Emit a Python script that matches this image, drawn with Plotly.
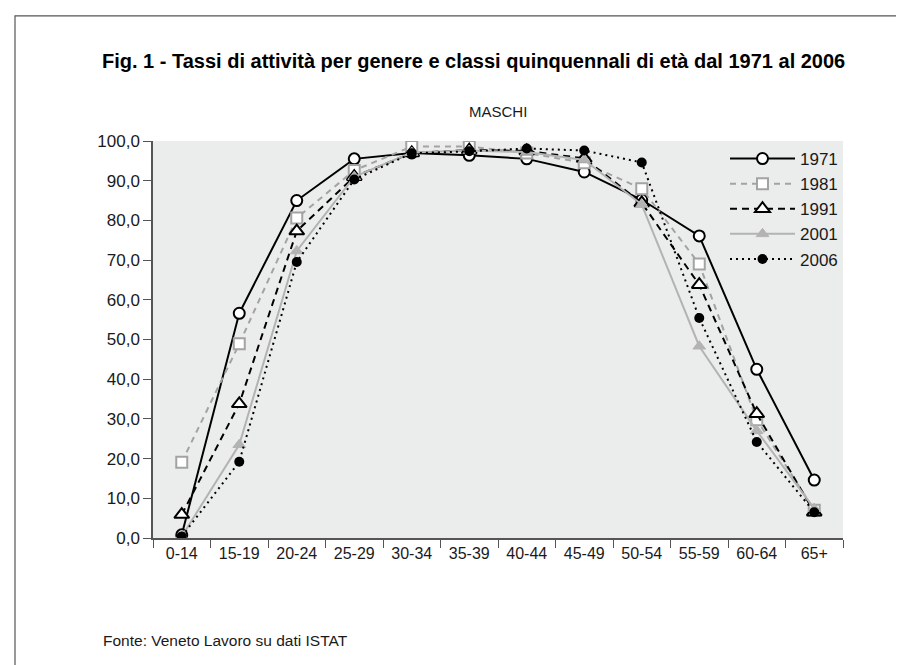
import plotly.graph_objects as go

eta = ["0-14", "15-19", "20-24", "25-29", "30-34", "35-39", "40-44", "45-49", "50-54", "55-59", "60-64", "65+"]

m1971 = [0.8, 56.6, 85.0, 95.5, 97.0, 96.4, 95.5, 92.2, 85.2, 76.1, 42.5, 14.6]
m1981 = [19.1, 48.9, 80.6, 92.6, 98.6, 98.6, 97.0, 94.5, 88.0, 69.0, 29.8, 7.0]
m1991 = [5.9, 33.8, 77.3, 91.0, 97.0, 97.7, 97.5, 95.6, 84.4, 63.8, 31.3, 6.5]
m2001 = [0.4, 23.5, 72.3, 91.0, 97.1, 97.6, 97.2, 95.2, 84.0, 48.3, 27.0, 7.4]
m2006 = [0.4, 19.2, 69.5, 90.3, 96.9, 97.4, 98.1, 97.6, 94.6, 55.4, 24.2, 6.5]

FONT = "Liberation Sans, Arial, Helvetica, sans-serif"

fig = go.Figure()

fig.add_trace(go.Scatter(
    x=eta, y=m1971, name="1971", mode="lines+markers",
    line=dict(color="black", width=2),
    marker=dict(symbol="circle", size=11, color="white", line=dict(color="black", width=2))))
fig.add_trace(go.Scatter(
    x=eta, y=m1981, name="1981", mode="lines+markers",
    line=dict(color="#a3a3a3", width=2, dash="6px,5px"),
    marker=dict(symbol="square", size=11, color="white", line=dict(color="#a3a3a3", width=2))))
fig.add_trace(go.Scatter(
    x=eta, y=m1991, name="1991", mode="lines+markers",
    line=dict(color="black", width=2, dash="7px,5px"),
    marker=dict(symbol="triangle-up", size=13, color="white", line=dict(color="black", width=2))))
fig.add_trace(go.Scatter(
    x=eta, y=m2001, name="2001", mode="lines+markers",
    line=dict(color="#b3b3b3", width=2),
    marker=dict(symbol="triangle-up", size=11, color="#b3b3b3", line=dict(color="#b3b3b3", width=1))))
fig.add_trace(go.Scatter(
    x=eta, y=m2006, name="2006", mode="lines+markers",
    line=dict(color="black", width=2, dash="2px,4px"),
    marker=dict(symbol="circle", size=10, color="black")))

fig.update_layout(
    width=904, height=665,
    margin=dict(l=145, r=69, t=133, b=135),
    paper_bgcolor="white",
    plot_bgcolor="#ebecec",
    separators=",.",
    font=dict(family=FONT, size=17, color="#1a1a1a"),
    showlegend=True,
    legend=dict(x=1.0, y=1.0, xanchor="right", yanchor="top",
                bgcolor="rgba(0,0,0,0)", font=dict(size=17), tracegroupgap=0,
                itemwidth=65),
    shapes=[dict(type="rect", xref="paper", yref="paper",
                 x0=-0.2, x1=1.09, y0=-0.5, y1=1.315,
                 line=dict(color="#555555", width=1.2), fillcolor="rgba(0,0,0,0)", layer="below")],
    annotations=[
        dict(text="<b>Fig. 1 - Tassi di attività per genere e classi quinquennali di età dal 1971 al 2006</b>",
             xref="paper", yref="paper", x=0.4645, y=1.2015, xanchor="center", yanchor="middle",
             showarrow=False, font=dict(size=20, color="black")),
        dict(text="MASCHI", xref="paper", yref="paper", x=0.5, y=1.075,
             xanchor="center", yanchor="middle", showarrow=False, font=dict(size=15)),
        dict(text="Fonte: Veneto Lavoro su dati ISTAT", xref="paper", yref="paper",
             x=-0.075, y=-0.257, xanchor="left", yanchor="middle", showarrow=False,
             font=dict(size=15.5)),
    ],
)

fig.update_xaxes(
    type="category", showgrid=False, zeroline=False,
    showline=True, linecolor="#555555", linewidth=1.5,
    ticks="outside", ticklen=8, tickcolor="#555555", tickson="boundaries",
    tickfont=dict(size=16), range=[-0.5, 11.5])
fig.update_yaxes(
    range=[0, 100], dtick=10, tickformat=".1f",
    showgrid=False, zeroline=False,
    showline=True, linecolor="#555555", linewidth=1.5,
    ticks="outside", ticklen=8, tickcolor="#555555",
    tickfont=dict(size=17))

fig.write_html("out.html")
